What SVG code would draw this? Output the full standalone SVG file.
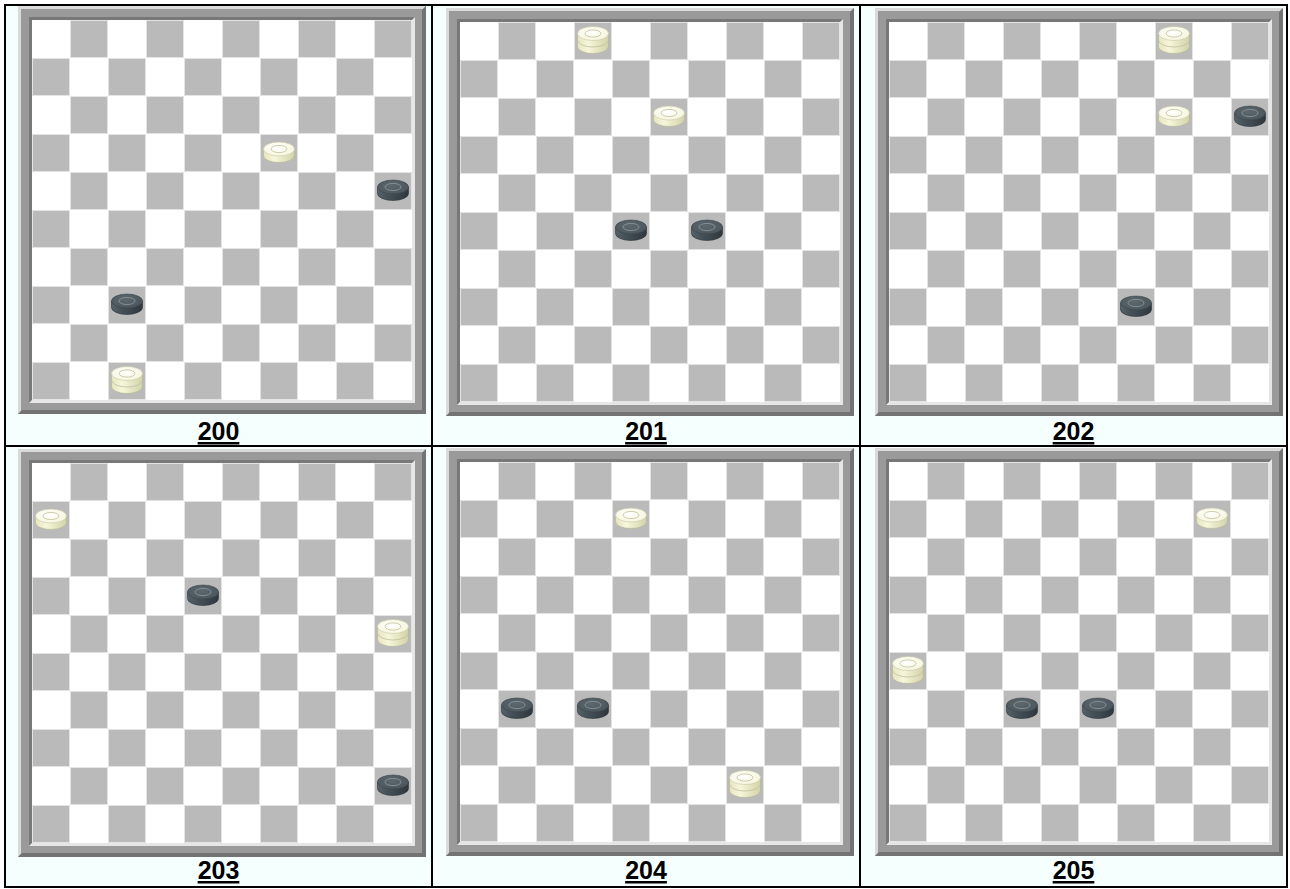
<svg xmlns="http://www.w3.org/2000/svg" xmlns:xlink="http://www.w3.org/1999/xlink" width="1290" height="889" viewBox="0 0 1290 889">
<style>
.lbl{font-family:"Liberation Sans",Arial,sans-serif;font-weight:bold;font-size:25px;text-anchor:middle;text-decoration:underline;fill:#000}
.tbl{fill:none;stroke:#000;stroke-width:2}
</style>
<defs>
<pattern id="checker" patternUnits="userSpaceOnUse" x="14" y="14" width="76" height="76">
<rect width="76" height="76" fill="#fff"/>
<rect x="38.5" y="0.5" width="37" height="37" fill="#bababa" stroke="#e4e4e4" stroke-width="1"/>
<rect x="0.5" y="38.5" width="37" height="37" fill="#bababa" stroke="#e4e4e4" stroke-width="1"/>
</pattern>
<linearGradient id="wside" x1="0" y1="0" x2="1" y2="0">
<stop offset="0" stop-color="#e6e6c0"/>
<stop offset="0.35" stop-color="#f6f6da"/>
<stop offset="1" stop-color="#d2d2aa"/>
</linearGradient>
<linearGradient id="dside" x1="0" y1="0" x2="1" y2="0">
<stop offset="0" stop-color="#56626a"/>
<stop offset="0.3" stop-color="#46525a"/>
<stop offset="1" stop-color="#2e373d"/>
</linearGradient>
<radialGradient id="wtop" cx="0.45" cy="0.4" r="0.7">
<stop offset="0" stop-color="#ffffff"/>
<stop offset="1" stop-color="#f4f4d8"/>
</radialGradient>
<radialGradient id="dtop" cx="0.45" cy="0.4" r="0.7">
<stop offset="0" stop-color="#5c686e"/>
<stop offset="1" stop-color="#48545a"/>
</radialGradient>
<g id="frame">
<rect width="408" height="408" fill="#9a9a9a"/>
<path d="M0,0H408L405,3H3V405L0,408Z" fill="#dadada"/>
<path d="M408,0V408H0L4,404H404V4Z" fill="#737373"/>
<path d="M11,11H397L394,14H14V394L11,397Z" fill="#787878"/>
<path d="M397,11V397H11L14,394H394V14Z" fill="#e6e6e6"/>
</g>
<g id="wp">
<path d="M-15.5,-4V2.5A15.5,7 0 0 0 15.5,2.5V-4Z" fill="url(#wside)" stroke="#b4b494" stroke-width="0.6"/>
<ellipse cx="0" cy="-4" rx="15.5" ry="7" fill="url(#wtop)" stroke="#c8c8a8" stroke-width="0.6"/>
<ellipse cx="0" cy="-4" rx="8" ry="3.6" fill="none" stroke="#c2c29a" stroke-width="0.8"/>
</g>
<g id="wk">
<path d="M-15.5,-7.5V5.5A15.5,7 0 0 0 15.5,5.5V-7.5Z" fill="url(#wside)" stroke="#b4b494" stroke-width="0.6"/>
<path d="M-15.5,-1A15.5,7 0 0 0 15.5,-1" fill="none" stroke="#c0c09c" stroke-width="0.8"/>
<ellipse cx="0" cy="-7.5" rx="15.5" ry="7" fill="url(#wtop)" stroke="#c8c8a8" stroke-width="0.6"/>
<ellipse cx="0" cy="-7.5" rx="8" ry="3.6" fill="none" stroke="#c2c29a" stroke-width="0.8"/>
</g>
<g id="dp">
<path d="M-15.5,-4V2.5A15.5,7 0 0 0 15.5,2.5V-4Z" fill="url(#dside)" stroke="#2a3238" stroke-width="0.6"/>
<ellipse cx="0" cy="-4" rx="15.5" ry="7" fill="url(#dtop)" stroke="#3e484e" stroke-width="0.6"/>
<ellipse cx="0" cy="-4" rx="8" ry="3.6" fill="none" stroke="#8d999f" stroke-width="0.8"/>
</g>
</defs>
<rect width="1290" height="889" fill="#fff"/>
<rect x="5" y="5" width="1282" height="882" fill="#f5fffe"/>

<g id="board-200" transform="translate(18,6)">
<use href="#frame"/>
<rect x="14" y="14" width="380" height="380" fill="url(#checker)"/>
<use href="#wp" x="261" y="147"/>
<use href="#dp" x="375" y="185"/>
<use href="#dp" x="109" y="299"/>
<use href="#wk" x="109" y="375"/>
</g>
<g id="board-201" transform="translate(446,8)">
<use href="#frame"/>
<rect x="14" y="14" width="380" height="380" fill="url(#checker)"/>
<use href="#wk" x="147" y="33"/>
<use href="#wp" x="223" y="109"/>
<use href="#dp" x="185" y="223"/>
<use href="#dp" x="261" y="223"/>
</g>
<g id="board-202" transform="translate(875,8)">
<use href="#frame"/>
<rect x="14" y="14" width="380" height="380" fill="url(#checker)"/>
<use href="#wk" x="299" y="33"/>
<use href="#wp" x="299" y="109"/>
<use href="#dp" x="375" y="109"/>
<use href="#dp" x="261" y="299"/>
</g>
<g id="board-203" transform="translate(18,449)">
<use href="#frame"/>
<rect x="14" y="14" width="380" height="380" fill="url(#checker)"/>
<use href="#wp" x="33" y="71"/>
<use href="#dp" x="185" y="147"/>
<use href="#wk" x="375" y="185"/>
<use href="#dp" x="375" y="337"/>
</g>
<g id="board-204" transform="translate(446,448)">
<use href="#frame"/>
<rect x="14" y="14" width="380" height="380" fill="url(#checker)"/>
<use href="#wp" x="185" y="71"/>
<use href="#dp" x="71" y="261"/>
<use href="#dp" x="147" y="261"/>
<use href="#wk" x="299" y="337"/>
</g>
<g id="board-205" transform="translate(875,448)">
<use href="#frame"/>
<rect x="14" y="14" width="380" height="380" fill="url(#checker)"/>
<use href="#wp" x="337" y="71"/>
<use href="#wk" x="33" y="223"/>
<use href="#dp" x="147" y="261"/>
<use href="#dp" x="223" y="261"/>
</g>

<g id="labels">
<text class="lbl" x="218.5" y="440">200</text>
<text class="lbl" x="646" y="440">201</text>
<text class="lbl" x="1073.5" y="440">202</text>
<text class="lbl" x="218.5" y="879">203</text>
<text class="lbl" x="646" y="879">204</text>
<text class="lbl" x="1073.5" y="879">205</text>
</g>

<g id="table-lines">
<rect class="tbl" x="5" y="5" width="1282" height="882"/>
<line class="tbl" x1="432" y1="5" x2="432" y2="887"/>
<line class="tbl" x1="860" y1="5" x2="860" y2="887"/>
<line class="tbl" x1="5" y1="446" x2="1287" y2="446"/>
</g>
</svg>
